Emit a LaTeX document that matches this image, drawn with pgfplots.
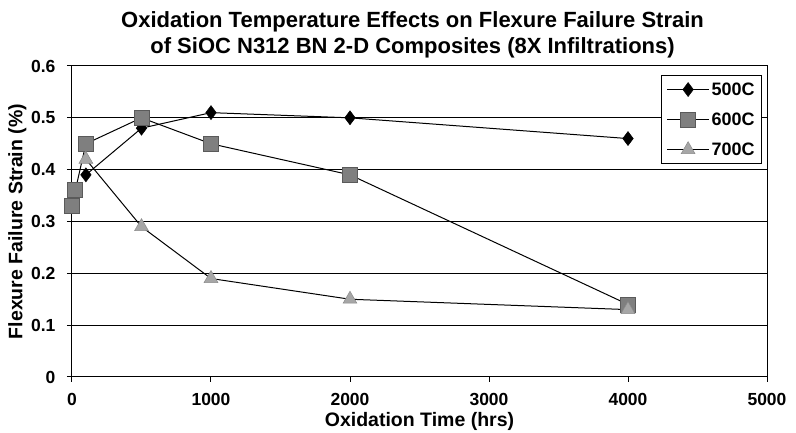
\documentclass[border=0pt]{standalone}
\usepackage{pgfplots}
\pgfplotsset{compat=1.18}
\usepackage{fontspec}
\setmainfont{Liberation Sans}
\definecolor{sq}{HTML}{7F7F7F}
\definecolor{sqd}{HTML}{5A5A5A}
\definecolor{tri}{HTML}{A6A6A6}
\definecolor{trid}{HTML}{8A8A8A}
\begin{document}
\begin{tikzpicture}
\useasboundingbox (-72pt,-56pt) rectangle (724pt,377pt);
\begin{axis}[
  scale only axis, width=695pt, height=311pt,
  xmin=0, xmax=5000, ymin=0, ymax=0.6,
  xtick={0,1000,2000,3000,4000,5000},
  ytick={0,0.1,0.2,0.3,0.4,0.5,0.6},
  yticklabels={0,0.1,0.2,0.3,0.4,0.5,0.6},
  xticklabels={0,1000,2000,3000,4000,5000},
  scaled x ticks=false,
  ymajorgrids, grid style={black, line width=1pt},
  axis line style={black, line width=1pt},
  tick style={black, line width=1pt},
  tick align=outside, major tick length=5pt,
  xtick pos=bottom, ytick pos=left,
  ticklabel style={font=\fontsize{17.5}{20}\selectfont\bfseries},
  xticklabel style={yshift=-8pt},
  yticklabel style={xshift=-8pt},
  label style={font=\fontsize{19.5}{22}\selectfont\bfseries},
  xlabel={Oxidation Time (hrs)},
  ylabel={Flexure Failure Strain (\%)},
  xlabel style={at={(axis description cs:0.5,0)}, anchor=base, yshift=-50pt},
  ylabel style={at={(axis description cs:0,0.5)}, anchor=south, yshift=42pt},
  title={Oxidation Temperature Effects on Flexure Failure Strain\\of SiOC N312 BN 2-D Composites (8X Infiltrations)},
  title style={font=\fontsize{22}{26}\selectfont\bfseries, align=center, at={(axis description cs:0.49,1)}, anchor=south, yshift=-2pt},
  legend style={at={(rel axis cs:0.993,0.971)}, anchor=north east, draw=black, line width=1pt,
    font=\fontsize{18}{20}\selectfont\bfseries, row sep=12pt, inner sep=5pt, cells={anchor=west}},
  legend cell align=left,
  legend image code/.code={\draw[mark repeat=2,mark phase=2,#1] plot coordinates {(0pt,0pt) (21pt,0pt) (42pt,0pt)};},
  clip=false,
]
\addplot[black, line width=1pt, mark=diamond*, mark size=7pt, mark options={fill=black, draw=black, line width=0.5pt}]
  coordinates {(100,0.39) (500,0.48) (1000,0.51) (2000,0.50) (4000,0.46)};
\addlegendentry{500C}
\addplot[black, line width=1pt, mark=square*, mark size=7.5pt, mark options={fill=sq, draw=sqd, line width=0.8pt}]
  coordinates {(0,0.33) (24,0.36) (100,0.45) (500,0.50) (1000,0.45) (2000,0.39) (4000,0.14)};
\addlegendentry{600C}
\addplot[black, line width=1pt, mark=triangle*, mark size=8pt, mark options={fill=tri, draw=trid, line width=0.5pt}]
  coordinates {(100,0.42) (500,0.29) (1000,0.19) (2000,0.15) (4000,0.13)};
\addlegendentry{700C}
\draw[black, line width=1pt] (rel axis cs:1,0) -- (rel axis cs:1,1);
\end{axis}
\end{tikzpicture}
\end{document}
